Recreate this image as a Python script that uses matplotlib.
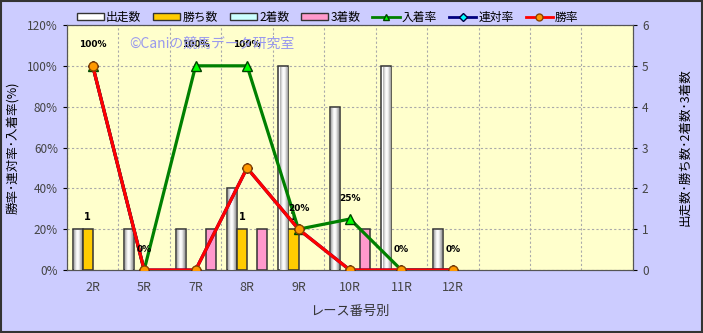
import numpy as np
import matplotlib
matplotlib.use('Agg')
import matplotlib.pyplot as plt
from matplotlib.patches import Patch, Rectangle
from matplotlib.lines import Line2D

plt.rcParams['font.family'] = ['Noto Sans CJK JP', 'DejaVu Sans']

# data
races = ['2R', '5R', '7R', '8R', '9R', '10R', '11R', '12R']
n_slots = 11
starts = [1, 1, 1, 2, 5, 4, 5, 1]        # 出走数
wins = [1, 0, 0, 1, 1, 0, 0, 0]          # 勝ち数
seconds = [0, 0, 0, 0, 0, 0, 0, 0]       # 2着数
thirds = [0, 0, 1, 1, 0, 1, 0, 0]        # 3着数
place_rate = [100, 0, 100, 100, 20, 25, 0, 0]   # 入着率
quinella_rate = [100, 0, 0, 50, 20, 0, 0, 0]    # 連対率
win_rate = [100, 0, 0, 50, 20, 0, 0, 0]         # 勝率

x = np.arange(len(races))

fig = plt.figure(figsize=(7.03, 3.33), dpi=100)
fig.patch.set_facecolor('#CCCCFF')
fig.patches.append(Rectangle((0.001, 0.002), 0.997, 0.995, transform=fig.transFigure,
                             fill=False, edgecolor='#333333', linewidth=1.5))

ax2 = fig.add_axes([0.0953, 0.189, 0.805, 0.736])   # counts (right)
ax1 = ax2.twinx()                                   # rates (left)
ax1.yaxis.tick_left()
ax1.yaxis.set_label_position('left')
ax2.yaxis.tick_right()
ax2.yaxis.set_label_position('right')
ax1.set_zorder(ax2.get_zorder() + 1)
ax1.patch.set_visible(False)
ax2.set_facecolor('#FFFFCC')

# bars
w = 0.195
bar_cols = ['#FFFFFF', '#FFCC00', '#CCFFFF', '#FF99CC']
bar_data = [starts, wins, seconds, thirds]
for i, (vals, col) in enumerate(zip(bar_data, bar_cols)):
    offs = (i - 1.5) * w
    vals = np.array(vals)
    nz = vals > 0
    ax2.bar(x[nz] + offs, vals[nz], width=w, color=col, edgecolor='#333333',
            linewidth=1.1, zorder=3)
    if i == 0:
        # grey shading on the white bars
        grad = np.array([[0.7, 0.92, 1.0, 0.97, 0.85, 0.65]])
        for xi, v in zip(x[nz], vals[nz]):
            ax2.imshow(grad, cmap='gray', vmin=0, vmax=1, aspect='auto',
                       extent=(xi + offs - w / 2 + 0.025, xi + offs + w / 2 - 0.025, 0.01, v - 0.03),
                       zorder=3.5, interpolation='bicubic')
for xi, v in zip(x, wins):
    if v > 0:
        ax2.text(xi - 0.5 * w, v + 0.18, str(v), ha='center', va='bottom',
                 fontsize=7, fontweight='bold', family='DejaVu Sans')

# lines
ax1.plot(x, place_rate, color='#008000', lw=2.3, marker='^', ms=7,
         mfc='#00FF00', mec='#004400', zorder=4)
ax1.plot(x, quinella_rate, color='#000080', lw=2.3, marker='D', ms=5,
         mfc='#00FFFF', mec='#000040', zorder=5)
ax1.plot(x, win_rate, color='#FF0000', lw=2.3, marker='o', ms=6.5,
         mfc='#FF9900', mec='#884400', zorder=6)
for xi, v in zip(x, place_rate):
    ax1.text(xi, v + 8, f'{v}%', ha='center', va='bottom', fontsize=6.5,
             fontweight='bold', family='DejaVu Sans', zorder=7)

ax1.set_ylim(0, 120)
ax1.set_yticks(np.arange(0, 121, 20))
ax1.set_yticklabels([f'{t}%' for t in range(0, 121, 20)])
ax2.set_ylim(0, 6)
ax2.set_yticks(range(0, 7))
ax2.set_xlim(-0.5, n_slots - 0.5)
ax2.set_xticks(x)
ax2.set_xticklabels(races)
ax2.set_xticks(np.arange(n_slots + 1) - 0.5, minor=True)
ax2.tick_params(axis='x', which='major', length=0, pad=8)
ax2.tick_params(axis='x', which='minor', length=0)
ax2.grid(True, which='minor', axis='x', color='#AAAAAA', linestyle=(0, (2, 2)), linewidth=0.8)
ax2.grid(True, which='major', axis='y', color='#AAAAAA', linestyle=(0, (2, 2)), linewidth=0.8)
ax2.set_axisbelow(True)
for a in (ax1, ax2):
    a.tick_params(axis='y', labelsize=8.5, labelcolor='#444444', length=3)
    for s in a.spines.values():
        s.set_color('#555555')
ax2.tick_params(axis='x', labelsize=9, labelcolor='#444444')

ax2.set_xlabel('レース番号別', fontsize=9.5, color='#333333', labelpad=8)
ax1.set_ylabel('勝率･連対率･入着率(%)', fontsize=9)
ax1.yaxis.set_label_coords(-0.085, 0.5)
ax2.set_ylabel('出走数･勝ち数･2着数･3着数', fontsize=9)
ax2.yaxis.set_label_coords(1.08, 0.5)

ax1.text(0.11, 0.925, '©Caniの競馬データ研究室', transform=ax1.transAxes,
         fontsize=10, color='#9999EE', va='center', zorder=8)

handles = [Patch(facecolor=c, edgecolor='#333333') for c in bar_cols]
handles += [
    Line2D([], [], color='#008000', lw=2, marker='^', ms=5, mfc='#00FF00', mec='#004400'),
    Line2D([], [], color='#000080', lw=2, marker='D', ms=4, mfc='#00FFFF', mec='#000040'),
    Line2D([], [], color='#FF0000', lw=2, marker='o', ms=5, mfc='#FF9900', mec='#884400'),
]
labels = ['出走数', '勝ち数', '2着数', '3着数', '入着率', '連対率', '勝率']
fig.legend(handles, labels, loc='center', bbox_to_anchor=(0.466, 0.948), ncol=7,
           frameon=False, fontsize=8.5, handlelength=2.3, handleheight=0.5,
           handletextpad=0.2, columnspacing=1.0, borderaxespad=0)

fig.savefig('out.png', dpi=100, facecolor=fig.get_facecolor())
